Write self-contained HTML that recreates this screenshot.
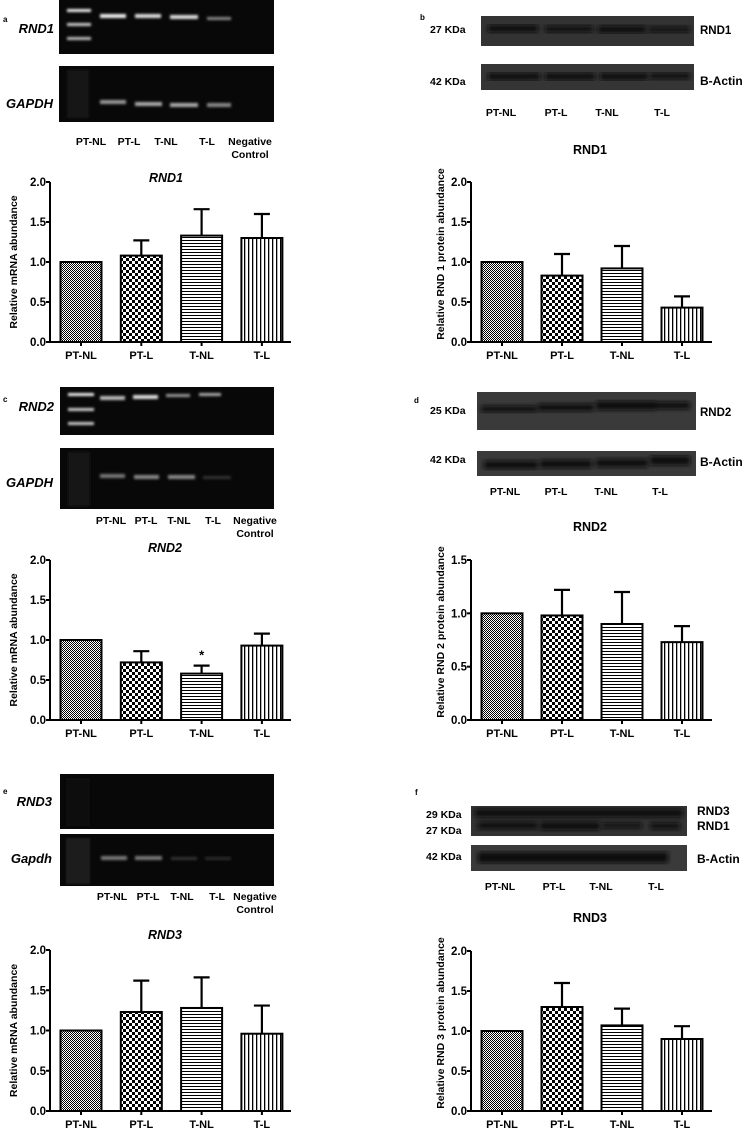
<!DOCTYPE html>
<html><head><meta charset="utf-8"><style>
html,body{margin:0;padding:0;background:#fff;}
svg{display:block;font-family:"Liberation Sans",Arial,sans-serif;font-weight:bold;}
</style></head><body>
<svg id="fig" width="748" height="1133" viewBox="0 0 748 1133" xmlns="http://www.w3.org/2000/svg">
<defs>
<pattern id="pFine" width="2" height="2" patternUnits="userSpaceOnUse"><rect width="2" height="2" fill="#fff"/><rect width="1" height="1" fill="#000"/><rect x="1" y="1" width="1" height="1" fill="#000"/></pattern>
<pattern id="pCheck" width="6" height="6" patternUnits="userSpaceOnUse"><rect width="6" height="6" fill="#fff"/><rect width="3" height="3" fill="#000"/><rect x="3" y="3" width="3" height="3" fill="#000"/></pattern>
<pattern id="pH" width="4" height="3" patternUnits="userSpaceOnUse"><rect width="4" height="3" fill="#fff"/><rect width="4" height="1" fill="#000"/></pattern>
<pattern id="pV" width="4" height="4" patternUnits="userSpaceOnUse"><rect width="4" height="4" fill="#fff"/><rect width="1.3" height="4" fill="#000"/></pattern>
<filter id="blur1"><feGaussianBlur stdDeviation="1.2"/></filter>
<filter id="blur2"><feGaussianBlur stdDeviation="2"/></filter>
</defs>

<g>
<text x="3" y="22" font-size="8">a</text>
<text x="54" y="33" font-size="13" font-style="italic" text-anchor="end">RND1</text>
<text x="53" y="108" font-size="13" font-style="italic" text-anchor="end">GAPDH</text>
<rect x="59" y="0" width="215" height="54" fill="#080808"/>
<g filter="url(#blur1)" fill="#eee">
<rect x="67" y="9" width="24" height="3"/><rect x="67" y="23" width="24" height="3" fill="#ccc"/><rect x="67" y="37" width="24" height="3" fill="#bbb"/>
<rect x="100" y="14" width="26" height="4"/><rect x="135" y="14" width="26" height="4" fill="#ddd"/><rect x="170" y="15" width="28" height="4" fill="#ddd"/><rect x="207" y="17" width="24" height="3" fill="#888"/>
</g>
<rect x="59" y="66" width="215" height="56" fill="#080808"/>
<g filter="url(#blur1)">
<rect x="67" y="70" width="22" height="48" fill="#141414"/>
<rect x="100" y="100" width="26" height="4" fill="#999"/><rect x="135" y="102" width="27" height="4" fill="#aaa"/><rect x="170" y="103" width="28" height="4" fill="#aaa"/><rect x="207" y="103" width="24" height="4" fill="#888"/>
</g>
<g font-size="10.5" text-anchor="middle">
<text x="91" y="145">PT-NL</text><text x="129" y="145">PT-L</text><text x="166" y="145">T-NL</text><text x="207" y="145">T-L</text><text x="250" y="145">Negative</text><text x="250" y="158">Control</text>
</g>
</g>

<g>
<text x="420" y="20" font-size="8">b</text>
<text x="430" y="33" font-size="10.5">27 KDa</text><text x="430" y="85" font-size="10.5">42 KDa</text>
<rect x="481" y="16" width="213" height="30" fill="#333"/>
<g filter="url(#blur2)" fill="#111"><rect x="488" y="25" width="50" height="7"/><rect x="545" y="26" width="48" height="6"/><rect x="598" y="26" width="48" height="7"/><rect x="648" y="27" width="42" height="5"/></g>
<rect x="481" y="64" width="213" height="26" fill="#353535"/>
<g filter="url(#blur2)" fill="#0c0c0c"><rect x="488" y="73" width="52" height="7"/><rect x="545" y="73" width="50" height="7"/><rect x="600" y="73" width="48" height="7"/><rect x="650" y="73" width="40" height="6"/></g>
<text x="700" y="34" font-size="11.5">RND1</text><text x="700" y="85" font-size="12">B-Actin</text>
<g font-size="10.5" text-anchor="middle"><text x="501" y="116">PT-NL</text><text x="556" y="116">PT-L</text><text x="607" y="116">T-NL</text><text x="662" y="116">T-L</text></g>
</g>

<g>
<text x="3" y="402" font-size="8">c</text>
<text x="54" y="411" font-size="13" font-style="italic" text-anchor="end">RND2</text>
<text x="53" y="487" font-size="13" font-style="italic" text-anchor="end">GAPDH</text>
<rect x="60" y="387" width="214" height="48" fill="#080808"/>
<g filter="url(#blur1)" fill="#eee">
<rect x="68" y="393" width="26" height="3"/><rect x="68" y="408" width="26" height="3" fill="#ccc"/><rect x="68" y="422" width="26" height="3" fill="#ccc"/>
<rect x="100" y="396" width="25" height="4" fill="#bbb"/><rect x="133" y="395" width="25" height="4" fill="#ddd"/><rect x="166" y="394" width="24" height="3" fill="#999"/><rect x="199" y="393" width="22" height="3" fill="#aaa"/>
</g>
<rect x="60" y="448" width="214" height="61" fill="#080808"/>
<g filter="url(#blur1)"><rect x="68" y="452" width="22" height="54" fill="#141414"/>
<rect x="100" y="474" width="25" height="4" fill="#777"/><rect x="134" y="475" width="25" height="4" fill="#888"/><rect x="168" y="475" width="27" height="4" fill="#888"/><rect x="203" y="476" width="28" height="3" fill="#333"/></g>
<g font-size="10.5" text-anchor="middle">
<text x="111" y="524">PT-NL</text><text x="146" y="524">PT-L</text><text x="179" y="524">T-NL</text><text x="213" y="524">T-L</text><text x="255" y="524">Negative</text><text x="255" y="537">Control</text>
</g>
</g>

<g>
<text x="414" y="403" font-size="8">d</text>
<text x="430" y="414" font-size="10.5">25 KDa</text><text x="430" y="463" font-size="10.5">42 KDa</text>
<rect x="477" y="392" width="219" height="38" fill="#3a3a3a"/>
<g filter="url(#blur2)" fill="#111"><rect x="481" y="406" width="56" height="6"/><rect x="538" y="404" width="56" height="7"/><rect x="596" y="401" width="60" height="9"/><rect x="646" y="402" width="44" height="7"/></g>
<rect x="477" y="451" width="219" height="25" fill="#3a3a3a"/>
<g filter="url(#blur2)" fill="#0c0c0c"><rect x="484" y="461" width="54" height="8"/><rect x="540" y="460" width="52" height="8"/><rect x="596" y="459" width="52" height="8"/><rect x="650" y="456" width="40" height="9"/></g>
<text x="700" y="416" font-size="11.5">RND2</text><text x="700" y="466" font-size="12">B-Actin</text>
<g font-size="10.5" text-anchor="middle"><text x="505" y="495">PT-NL</text><text x="556" y="495">PT-L</text><text x="606" y="495">T-NL</text><text x="660" y="495">T-L</text></g>
</g>

<g>
<text x="3" y="794" font-size="8">e</text>
<text x="52" y="806" font-size="13" font-style="italic" text-anchor="end">RND3</text>
<text x="52" y="863" font-size="13" font-style="italic" text-anchor="end">Gapdh</text>
<rect x="60" y="774" width="214" height="55" fill="#080808"/>
<rect x="66" y="778" width="24" height="48" fill="#101010" filter="url(#blur1)"/>
<rect x="60" y="834" width="214" height="52" fill="#080808"/>
<g filter="url(#blur1)"><rect x="66" y="838" width="24" height="46" fill="#1e1e1e"/>
<rect x="101" y="856" width="26" height="4" fill="#777"/><rect x="135" y="856" width="27" height="4" fill="#777"/><rect x="171" y="857" width="26" height="3" fill="#333"/><rect x="205" y="857" width="26" height="3" fill="#2a2a2a"/></g>
<g font-size="10.5" text-anchor="middle">
<text x="112" y="900">PT-NL</text><text x="148" y="900">PT-L</text><text x="182" y="900">T-NL</text><text x="217" y="900">T-L</text><text x="255" y="900">Negative</text><text x="255" y="913">Control</text>
</g>
</g>

<g>
<text x="415" y="795" font-size="8">f</text>
<text x="426" y="818" font-size="10.5">29 KDa</text><text x="426" y="834" font-size="10.5">27 KDa</text><text x="426" y="860" font-size="10.5">42 KDa</text>
<rect x="471" y="806" width="216" height="30" fill="#333"/>
<g filter="url(#blur2)" fill="#111"><rect x="475" y="809" width="208" height="8"/><rect x="478" y="822" width="60" height="7"/><rect x="540" y="822" width="60" height="8"/><rect x="602" y="823" width="40" height="5"/><rect x="650" y="823" width="30" height="6"/></g>
<rect x="471" y="845" width="216" height="26" fill="#3a3a3a"/>
<g filter="url(#blur2)" fill="#080808"><rect x="478" y="852" width="190" height="11"/></g>
<text x="697" y="815" font-size="12">RND3</text><text x="697" y="830" font-size="12">RND1</text><text x="697" y="863" font-size="12">B-Actin</text>
<g font-size="10.5" text-anchor="middle"><text x="500" y="890">PT-NL</text><text x="554" y="890">PT-L</text><text x="601" y="890">T-NL</text><text x="656" y="890">T-L</text></g>
</g>

<g id="charts"></g>
</svg>
<script>
const categories = ['PT-NL','PT-L','T-NL','T-L'];
const ticks2 = [0, 0.5, 1.0, 1.5, 2.0];
const ticks15 = [0, 0.5, 1.0, 1.5];
const aVals = [1.0, 1.08, 1.33, 1.30];
const aErr  = [1.0, 1.27, 1.66, 1.60];
const bVals = [1.0, 0.83, 0.92, 0.43];
const bErr  = [1.0, 1.10, 1.20, 0.57];
const cVals = [1.0, 0.72, 0.58, 0.93];
const cErr  = [1.0, 0.86, 0.68, 1.08];
const dVals = [1.0, 0.98, 0.90, 0.73];
const dErr  = [1.0, 1.22, 1.20, 0.88];
const eVals = [1.0, 1.23, 1.28, 0.96];
const eErr  = [1.0, 1.62, 1.66, 1.31];
const fVals = [1.0, 1.30, 1.07, 0.90];
const fErr  = [1.0, 1.60, 1.28, 1.06];
const cStars = ['', '', '*', ''];

const NS='http://www.w3.org/2000/svg';
const root=document.getElementById('charts');
const fills=['url(#pFine)','url(#pCheck)','url(#pH)','url(#pV)'];
function mk(tag,attrs,parent,text){const e=document.createElementNS(NS,tag);for(const k in attrs)e.setAttribute(k,attrs[k]);if(text!==undefined)e.textContent=text;parent.appendChild(e);return e;}

function drawChart(cfg, vals, errs, ticks, stars){
  const g=mk('g',{},root);
  
  
  const maxV=ticks[ticks.length-1];
  const y=v=>cfg.y0-(v/maxV)*(cfg.y0-cfg.yTop);
  const bw=cfg.bw;
  const xc=i=>cfg.xFirst+i*cfg.step;
  const t=mk('text',{x:cfg.titleX,y:cfg.titleY,'font-size':12.5,'text-anchor':'middle','font-style':cfg.italic?'italic':'normal'},g,cfg.title);
  
  
  const cy=(cfg.y0+cfg.yTop)/2+cfg.ytOff;
  const yt=mk('text',{x:cfg.ytX,y:cy,'font-size':10.5,'text-anchor':'middle',transform:`rotate(-90 ${cfg.ytX} ${cy})`},g,cfg.ytitle);
  
  
  vals.forEach((v,i)=>{
    const x=xc(i)-bw/2;
    const top=y(v);
    const r=mk('rect',{x:x,y:top,width:bw,height:cfg.y0-top,fill:fills[i],stroke:'#000','stroke-width':2},g);
    
    
    if(errs[i]>v+0.001){
      const e=mk('path',{d:`M${xc(i)} ${top} V${y(errs[i])} M${xc(i)-8} ${y(errs[i])} H${xc(i)+8}`,stroke:'#000','stroke-width':2.2,fill:'none'},g);
      
      
    }
    if(stars && stars[i]){
      const s=mk('text',{x:xc(i),y:y(errs[i])-6,'font-size':13,'text-anchor':'middle'},g,stars[i]);
      
      
    }
    mk('line',{x1:xc(i),x2:xc(i),y1:cfg.y0,y2:cfg.y0+4,stroke:'#000','stroke-width':2},g);
    const lb=mk('text',{x:xc(i),y:cfg.y0+17,'font-size':11,'text-anchor':'middle'},g,categories[i]);
    
    
  });
  const ax=mk('path',{d:`M${cfg.ax} ${cfg.yTop} V${cfg.y0} H${cfg.axEnd}`,stroke:'#000','stroke-width':2,fill:'none'},g);
  
  
  ticks.forEach(v=>{
    mk('line',{x1:cfg.ax-4,x2:cfg.ax,y1:y(v),y2:y(v),stroke:'#000','stroke-width':2},g);
    const l=mk('text',{x:cfg.ax-4,y:y(v)+4,'font-size':11.5,'text-anchor':'end'},g,v.toFixed(1));
    
    
  });
}
const L={ax:50,axEnd:291,xFirst:81,step:60.3,bw:41,ytX:17,ytOff:0,italic:true};
const R={ax:471,axEnd:712,xFirst:502,step:60,bw:41,ytX:444,ytOff:-8,italic:false};
drawChart(Object.assign({},L,{name:'chart-a-rnd1-mrna',title:'RND1',titleX:166,titleY:182,yTop:182,y0:342,ytitle:'Relative mRNA abundance'}),aVals,aErr,ticks2);
drawChart(Object.assign({},R,{name:'chart-b-rnd1-protein',title:'RND1',titleX:590,titleY:154,yTop:182,y0:342,ytitle:'Relative RND 1 protein abundance'}),bVals,bErr,ticks2);
drawChart(Object.assign({},L,{name:'chart-c-rnd2-mrna',title:'RND2',titleX:165,titleY:552,yTop:560,y0:720,ytitle:'Relative mRNA abundance'}),cVals,cErr,ticks2,cStars);
drawChart(Object.assign({},R,{name:'chart-d-rnd2-protein',title:'RND2',titleX:590,titleY:531,yTop:560,y0:720,ytitle:'Relative RND 2 protein abundance'}),dVals,dErr,ticks15);
drawChart(Object.assign({},L,{name:'chart-e-rnd3-mrna',title:'RND3',titleX:165,titleY:939,yTop:950,y0:1111,ytitle:'Relative mRNA abundance'}),eVals,eErr,ticks2);
drawChart(Object.assign({},R,{name:'chart-f-rnd3-protein',title:'RND3',titleX:590,titleY:922,yTop:951,y0:1111,ytitle:'Relative RND 3 protein abundance'}),fVals,fErr,ticks2);
</script>
</body></html>
